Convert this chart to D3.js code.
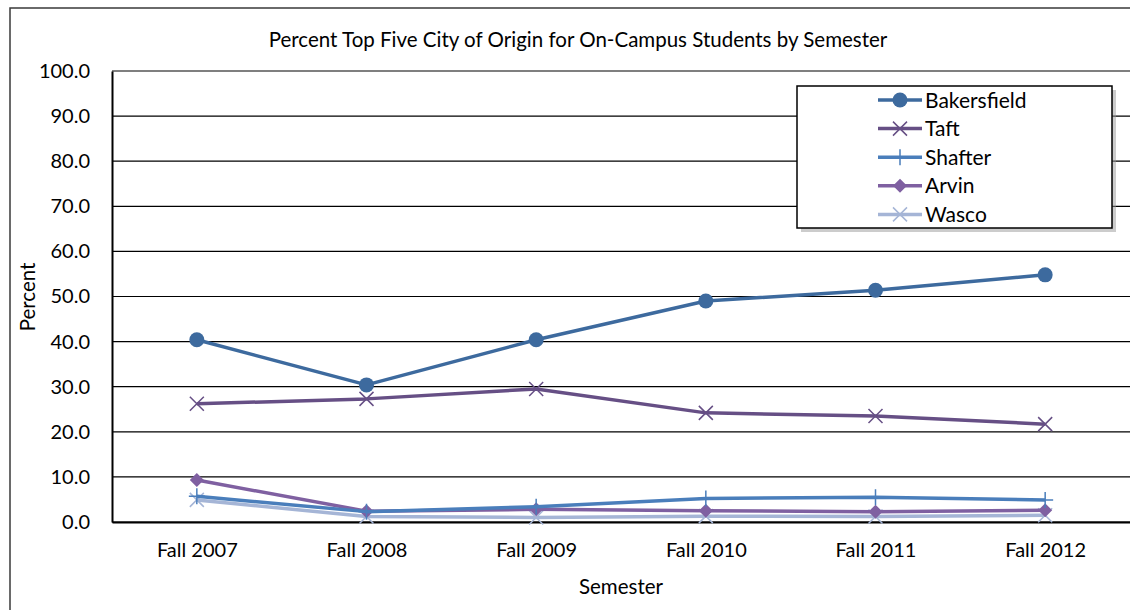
<!DOCTYPE html>
<html>
<head>
<meta charset="utf-8">
<script src="https://cdn.jsdelivr.net/npm/d3@7"></script>
<style>
  body { margin: 0; background: #fff; }
  svg { display: block; font-family: Lato, "Open Sans", sans-serif; }
</style>
</head>
<body>
<svg width="1130" height="610"></svg>
<script>
const semesters = ["Fall 2007", "Fall 2008", "Fall 2009", "Fall 2010", "Fall 2011", "Fall 2012"];
const bakersfield = [40.4, 30.4, 40.4, 49.0, 51.4, 54.8];
const taft = [26.2, 27.3, 29.5, 24.2, 23.5, 21.7];
const shafter = [5.7, 2.3, 3.4, 5.2, 5.5, 4.9];
const arvin = [9.3, 2.4, 2.8, 2.5, 2.3, 2.6];
const wasco = [4.9, 1.2, 1.0, 1.3, 1.2, 1.5];
const yTicks = [0, 10, 20, 30, 40, 50, 60, 70, 80, 90, 100];

const series = [
    { name: "Bakersfield", values: bakersfield, color: "#3D6A9E", marker: "circle" },
    { name: "Taft", values: taft, color: "#664F85", marker: "x" },
    { name: "Shafter", values: shafter, color: "#4A7EBB", marker: "plus" },
    { name: "Arvin", values: arvin, color: "#7F60A1", marker: "diamond" },
    { name: "Wasco", values: wasco, color: "#A5B5D6", marker: "x" }
];

const svg = d3.select("svg");
const plotLeft = 112, plotTop = 71, plotRight = 1130, plotBottom = 522;

// outer chart border
svg.append("rect")
    .attr("x", 10).attr("y", 8)
    .attr("width", 1140).attr("height", 620)
    .attr("fill", "none")
    .attr("stroke", "#3a3a3a")
    .attr("stroke-width", 1.5);

svg.append("text")
    .attr("x", 578).attr("y", 47)
    .attr("text-anchor", "middle")
    .attr("font-size", 20.5)
    .text("Percent Top Five City of Origin for On-Campus Students by Semester");

const x = d3.scalePoint()
    .domain(semesters)
    .range([plotLeft, plotRight])
    .padding(0.5);

const y = d3.scaleLinear()
    .domain([0, 100])
    .range([plotBottom, plotTop]);

// grid
svg.append("g")
    .selectAll("line")
    .data(yTicks)
    .enter()
    .append("line")
    .attr("x1", plotLeft).attr("x2", plotRight)
    .attr("y1", d => y(d)).attr("y2", d => y(d))
    .attr("stroke", "#000")
    .attr("stroke-width", 1.2);

const yAxis = svg.append("g")
    .attr("transform", `translate(${plotLeft},0)`)
    .call(d3.axisLeft(y).tickValues(yTicks).tickFormat(d3.format(".1f")).tickSize(0).tickPadding(22));
yAxis.select(".domain").attr("stroke", "#000").attr("stroke-width", 2);
yAxis.selectAll("text").attr("font-size", 20).attr("font-family", "Lato, sans-serif").attr("fill", "#000");

const xAxis = svg.append("g")
    .attr("transform", `translate(0,${plotBottom})`)
    .call(d3.axisBottom(x).tickSize(0).tickPadding(21));
xAxis.select(".domain").attr("stroke", "#000").attr("stroke-width", 2);
xAxis.selectAll("text").attr("font-size", 20).attr("font-family", "Lato, sans-serif").attr("fill", "#000");

svg.append("text")
    .attr("x", (plotLeft + plotRight) / 2).attr("y", 594)
    .attr("text-anchor", "middle")
    .attr("font-size", 20.5)
    .text("Semester");

svg.append("text")
    .attr("transform", "translate(35,297) rotate(-90)")
    .attr("text-anchor", "middle")
    .attr("font-size", 20.5)
    .text("Percent");

function drawMarker(g, type, color, cx, cy) {
    if (type === "circle") {
        g.append("circle").attr("cx", cx).attr("cy", cy).attr("r", 7.5).attr("fill", color);
    } else if (type === "diamond") {
        g.append("path")
            .attr("d", `M${cx},${cy - 7}L${cx + 7},${cy}L${cx},${cy + 7}L${cx - 7},${cy}Z`)
            .attr("fill", color);
    } else if (type === "x") {
        g.append("path")
            .attr("d", `M${cx - 7},${cy - 7}L${cx + 7},${cy + 7}M${cx - 7},${cy + 7}L${cx + 7},${cy - 7}`)
            .attr("stroke", color).attr("stroke-width", 1.5);
    } else if (type === "plus") {
        g.append("path")
            .attr("d", `M${cx},${cy - 8}L${cx},${cy + 8}M${cx - 8},${cy}L${cx + 8},${cy}`)
            .attr("stroke", color).attr("stroke-width", 1.5);
    }
}

const line = d3.line()
    .x((d, i) => x(semesters[i]))
    .y(d => y(d));

// draw bottom series first so Bakersfield ends on top
series.slice().reverse().forEach(s => {
    const g = svg.append("g");
    g.append("path")
        .attr("d", line(s.values))
        .attr("fill", "none")
        .attr("stroke", s.color)
        .attr("stroke-width", 3.5)
        .attr("stroke-linejoin", "round");
    s.values.forEach((v, i) => drawMarker(g, s.marker, s.color, x(semesters[i]), y(v)));
});

// legend
const legend = svg.append("g");
legend.append("rect")
    .attr("x", 801).attr("y", 90).attr("width", 315).attr("height", 142)
    .attr("fill", "#9a9a9a").attr("opacity", 0.5);
legend.append("rect")
    .attr("x", 797).attr("y", 86).attr("width", 315).attr("height", 142)
    .attr("fill", "#fff").attr("stroke", "#000").attr("stroke-width", 1.5);

series.forEach((s, i) => {
    const ly = 100 + i * 28.6;
    legend.append("line")
        .attr("x1", 878).attr("x2", 922)
        .attr("y1", ly).attr("y2", ly)
        .attr("stroke", s.color).attr("stroke-width", 3.5);
    drawMarker(legend, s.marker, s.color, 900, ly);
    legend.append("text")
        .attr("x", 925).attr("y", ly + 7.5)
        .attr("font-size", 21)
        .text(s.name);
});
</script>
</body>
</html>
